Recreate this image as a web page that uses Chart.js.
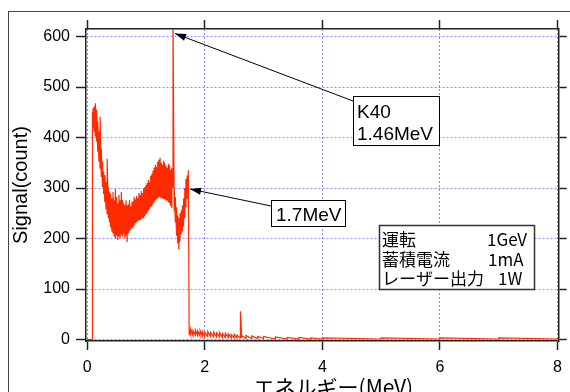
<!DOCTYPE html>
<html>
<head>
<meta charset="utf-8">
<script src="https://cdn.jsdelivr.net/npm/chart.js@4"></script>
<style>
  html,body{margin:0;padding:0;background:#fff;}
  canvas{display:block;}
</style>
</head>
<body>
<canvas id="spec" width="570" height="392"></canvas>
<script>
/* ---------- data ---------- */
const energy=[0,0.09,0.10,0.12,0.14,0.16,0.18,0.20,0.22,0.24,0.26,0.28,0.30,0.32,0.34,0.36,0.38,0.40,0.42,0.44,0.46,0.48,0.50,0.52,0.54,0.56,0.58,0.60,0.62,0.64,0.66,0.68,0.70,0.72,0.74,0.76,0.78,0.80,0.82,0.84,0.86,0.88,0.90,0.92,0.94,0.96,0.98,1.00,1.02,1.04,1.06,1.08,1.10,1.12,1.14,1.16,1.18,1.20,1.22,1.24,1.26,1.28,1.30,1.32,1.34,1.36,1.38,1.40,1.42,1.44,1.46,1.48,1.50,1.52,1.54,1.56,1.58,1.60,1.62,1.64,1.66,1.68,1.70,1.72,1.735,1.76,1.80,1.84,1.88,1.92,1.96,2.00,2.05,2.10,2.15,2.20,2.25,2.30,2.35,2.40,2.45,2.50,2.55,2.60,2.61,2.63,2.70,2.80,2.90,3.00,3.20,3.40,3.60,3.80,4.00,5.00,6.00,7.00,8.00];
// upper edge of the noise band at each energy
const signalHigh=[0,450,458,462,468,455,432,412,441,378,352,332,326,312,358,302,292,288,280,292,276,298,282,270,286,276,292,276,270,266,276,266,268,276,264,272,274,282,278,284,280,290,286,294,290,298,302,306,310,316,312,324,328,334,340,346,342,352,356,360,350,346,354,350,344,340,348,345,336,340,640,300,282,262,246,240,250,256,266,280,300,318,325,335,20,21,18,19,17,18,16,15,16,14,15,13,14,12,12,11,10,10,9,9,56,8,8,7,6,6,5,4,4,3,3,3,3,3,3];
// lower edge of the noise band at each energy
const signalLow=[0,0,420,412,402,392,372,352,338,322,302,288,272,258,248,240,232,222,214,210,204,200,206,197,204,200,208,204,210,200,206,193,210,214,218,220,222,226,230,232,234,236,236,238,240,240,244,248,250,255,258,262,264,268,272,276,278,280,282,282,280,280,278,278,276,275,272,270,265,260,300,255,232,206,190,178,194,208,214,224,240,262,278,290,8,9,8,9,8,7,7,6,6,6,5,5,5,4,4,4,3,3,3,3,4,3,2,2,2,2,1,1,1,1,1,1,1,1,1];

const xTicks=[0,2,4,6,8];
const yTicks=[0,100,200,300,400,500,600];

const xTitle='エネルギー(MeV)';
const yTitle='Signal(count)';
const infoRows=[['運転','1GeV'],['蓄積電流','1mA'],['レーザー出力','1W']];

/* ---------- build the trace: low then high at every energy ---------- */
const trace=[];
energy.forEach((e,i)=>{trace.push({x:e,y:signalLow[i]});trace.push({x:e,y:signalHigh[i]});});

const LAT='"Liberation Sans", Arial, sans-serif';
const JP='"Noto Sans CJK JP", sans-serif';
const AX='#222';
const GRID='#8a8aff';

function fixTicks(list){return s=>{s.ticks=list.map(v=>({value:v}));};}

/* ---------- overlay: frame, titles, callouts ---------- */
function arrow(ctx,x1,y1,x2,y2){
  ctx.beginPath();ctx.moveTo(x1,y1);ctx.lineTo(x2,y2);ctx.stroke();
  const a=Math.atan2(y2-y1,x2-x1),L=11,W=3.6;
  ctx.beginPath();
  ctx.moveTo(x2,y2);
  ctx.lineTo(x2-L*Math.cos(a)+W*Math.sin(a),y2-L*Math.sin(a)-W*Math.cos(a));
  ctx.lineTo(x2-L*Math.cos(a)-W*Math.sin(a),y2-L*Math.sin(a)+W*Math.cos(a));
  ctx.closePath();ctx.fill();
}
const overlay={
  id:'overlay',
  afterDraw(chart){
    const ctx=chart.ctx,xs=chart.scales.x,ys=chart.scales.y;
    ctx.save();
    // outer frame
    ctx.strokeStyle='#444';ctx.lineWidth=1;
    ctx.strokeRect(8.5,11.5,600,500);
    ctx.fillStyle='#000';ctx.strokeStyle='#000';
    // axis titles
    ctx.font='20px '+LAT;ctx.textAlign='center';ctx.textBaseline='middle';
    ctx.save();ctx.translate(21,(ys.top+ys.bottom)/2);ctx.rotate(-Math.PI/2);ctx.fillText(yTitle,0,0);ctx.restore();
    ctx.font='21px '+JP;ctx.textBaseline='alphabetic';
    ctx.fillText(xTitle,(xs.left+xs.right)/2+11,395);
    // K40 callout
    ctx.lineWidth=1;
    arrow(ctx,353,101,xs.getPixelForValue(1.46)+2,ys.getPixelForValue(606));
    ctx.fillStyle='#fff';ctx.fillRect(353.5,96.5,86,49);ctx.fillStyle='#000';
    ctx.strokeRect(353.5,96.5,86,49);
    ctx.font='19px '+LAT;ctx.textAlign='left';
    ctx.fillText('K40',357,118);ctx.fillText('1.46MeV',357,140);
    // 1.7 MeV callout
    arrow(ctx,271,206,xs.getPixelForValue(1.75),ys.getPixelForValue(298));
    ctx.fillStyle='#fff';ctx.fillRect(271.5,200.5,74,26);ctx.fillStyle='#000';
    ctx.strokeRect(271.5,200.5,74,26);
    ctx.fillText('1.7MeV',276,221);
    // run conditions
    ctx.fillStyle='#fff';ctx.fillRect(379.5,225.5,155,64);ctx.fillStyle='#000';
    ctx.lineWidth=1.5;ctx.strokeStyle='#333';ctx.strokeRect(379.5,225.5,155,64);
    ctx.font='17px '+JP;
    const valX=[487,488,498];
    infoRows.forEach((r,i)=>{const y=246+i*19.5;ctx.fillText(r[0],382,y);ctx.fillText(r[1],valX[i],y);});
    ctx.restore();
  }
};

new Chart(document.getElementById('spec'),{
  type:'line',
  data:{datasets:[{data:trace,borderColor:'#ff2a00',borderWidth:1.2,pointRadius:0,tension:0,fill:false}]},
  options:{
    responsive:false,animation:false,
    layout:{padding:{left:0,right:0,top:20,bottom:0}},
    plugins:{legend:{display:false},tooltip:{enabled:false}},
    scales:{
      x:{type:'linear',position:'bottom',min:-0.02,max:8.02,afterBuildTicks:fixTicks(xTicks),
        afterFit:s=>{s.height=51;},
        grid:{color:GRID,lineWidth:1,tickColor:AX,tickWidth:1.5,tickLength:9},
        border:{color:AX,width:1.5,dash:[2,2]},
        ticks:{color:'#000',font:{family:LAT,size:16},padding:8,maxRotation:0}},
      x2:{type:'linear',position:'top',min:-0.02,max:8.02,afterBuildTicks:fixTicks(xTicks),
        afterFit:s=>{s.height=9;},
        grid:{drawOnChartArea:false,tickColor:AX,tickWidth:1.5,tickLength:9},
        border:{color:AX,width:1.5},
        ticks:{display:false}},
      y:{type:'linear',position:'left',min:-3,max:615,afterBuildTicks:fixTicks(yTicks),
        afterFit:s=>{s.width=86;},
        grid:{color:GRID,lineWidth:1,tickColor:AX,tickWidth:1.5,tickLength:10},
        border:{color:AX,width:1.5,dash:[2,2]},
        ticks:{color:'#000',font:{family:LAT,size:16},padding:6}},
      y2:{type:'linear',position:'right',min:-3,max:615,afterBuildTicks:fixTicks(yTicks),
        afterFit:s=>{s.width=8;},
        grid:{drawOnChartArea:false,tickColor:AX,tickWidth:1.5,tickLength:8},
        border:{color:AX,width:1.5},
        ticks:{display:false}}
    }
  },
  plugins:[overlay]
});
</script>
</body>
</html>
